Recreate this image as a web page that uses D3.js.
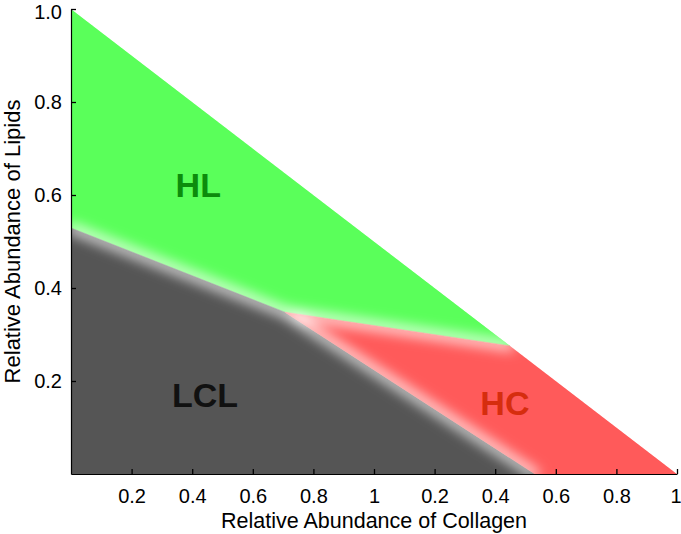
<!DOCTYPE html>
<html>
<head>
<meta charset="utf-8">
<script src="https://cdn.jsdelivr.net/npm/d3@7"></script>
<style>
  body { margin: 0; background: #fff; }
  text { font-family: "Liberation Sans", Arial, Helvetica, sans-serif; }
</style>
</head>
<body>
<svg width="681" height="534"></svg>
<script>
// corners of the plotted simplex, in axis units
const triangle = [[0, 1], [0, 0], [2, 0]];
// boundary points between the three classes
const leftPoint = [0, 0.529];
const triplePoint = [0.706, 0.348];
const hypPoint = [1.449, 0.2755];
const bottomPoint = [1.531, 0];

const regionNames = ["HL", "LCL", "HC"];
const regionColors = ["#5aff5a", "#555555", "#ff5a5a"];
const labelColors = ["#0c8c0c", "#111111", "#d62d0e"];
const labelPos = [[0.42, 0.595], [0.442, 0.144], [1.432, 0.127]];
const regions = [
    [[0, 1], leftPoint, triplePoint, hypPoint],
    [leftPoint, [0, 0], bottomPoint, triplePoint],
    [triplePoint, bottomPoint, [2, 0], hypPoint]
];
const boundaries = [
    [leftPoint, triplePoint],
    [triplePoint, hypPoint],
    [triplePoint, bottomPoint]
];

const xTicks = [0.2, 0.4, 0.6, 0.8, 1, 1.2, 1.4, 1.6, 1.8, 2];
const yTicks = [0.2, 0.4, 0.6, 0.8, 1];

const svg = d3.select("svg");
const x = d3.scaleLinear().domain([0, 2]).range([71, 677]);
const y = d3.scaleLinear().domain([0, 1]).range([474, 9]);

const line = d3.line().x(d => x(d[0])).y(d => y(d[1]));

const defs = svg.append("defs");
defs.append("clipPath").attr("id", "tri")
    .append("path").attr("d", line(triangle) + "Z");
const blur = defs.append("filter").attr("id", "soft")
    .attr("x", "-20%").attr("y", "-20%").attr("width", "140%").attr("height", "140%");
blur.append("feGaussianBlur").attr("stdDeviation", 6.5);

const plot = svg.append("g").attr("clip-path", "url(#tri)");

plot.selectAll("path.region")
    .data(regions)
    .enter()
    .append("path")
    .attr("class", "region")
    .attr("d", d => line(d) + "Z")
    .attr("fill", (d, i) => regionColors[i])
    .attr("stroke", (d, i) => regionColors[i])
    .attr("stroke-width", 0.5);

// soft white seams between the classes
plot.append("g").attr("filter", "url(#soft)")
    .selectAll("path")
    .data(boundaries)
    .enter()
    .append("path")
    .attr("d", d => line(d))
    .attr("fill", "none")
    .attr("stroke", "#fff")
    .attr("stroke-width", 8)
    .attr("stroke-linecap", "round");

svg.selectAll("text.region-label")
    .data(regionNames)
    .enter()
    .append("text")
    .attr("class", "region-label")
    .attr("x", (d, i) => x(labelPos[i][0]))
    .attr("y", (d, i) => y(labelPos[i][1]))
    .attr("text-anchor", "middle")
    .attr("font-size", 34)
    .attr("font-weight", "bold")
    .attr("fill", (d, i) => labelColors[i])
    .text(d => d);

// axes, ticks pointing inward
const xAxis = d3.axisBottom(x)
    .tickValues(xTicks)
    .tickSizeInner(-5)
    .tickSizeOuter(0)
    .tickPadding(15)
    .tickFormat(d => {
        const v = d > 1.0001 ? d - 1 : d;
        return Math.abs(v - 1) < 1e-6 ? "1" : d3.format(".1f")(v);
    });
const yAxis = d3.axisLeft(y)
    .tickValues(yTicks)
    .tickSizeInner(-5)
    .tickSizeOuter(0)
    .tickPadding(9)
    .tickFormat(d3.format(".1f"));

const gx = svg.append("g").attr("transform", `translate(0,${y(0)})`).call(xAxis);
const gy = svg.append("g").attr("transform", `translate(${x(0)},0)`).call(yAxis);
[gx, gy].forEach(g => {
    g.select(".domain").attr("stroke", "#000").attr("stroke-width", 1.2);
    g.selectAll(".tick line").attr("stroke", "#000").attr("stroke-width", 1.3);
    g.selectAll(".tick text").attr("font-size", 20).attr("fill", "#000")
        .attr("font-family", "'Liberation Sans', Arial, sans-serif");
});
// keep the edge labels inside the picture
gy.selectAll(".tick text").filter(d => d === 1).attr("dy", "0.45em");
gx.selectAll(".tick text").filter(d => d === 2)
    .attr("text-anchor", "end").attr("x", 4);

svg.append("text")
    .attr("x", (x(0) + x(2)) / 2)
    .attr("y", 528)
    .attr("text-anchor", "middle")
    .attr("font-size", 21.5)
    .text("Relative Abundance of Collagen");

svg.append("text")
    .attr("transform", `translate(20,${(y(0) + y(1)) / 2}) rotate(-90)`)
    .attr("text-anchor", "middle")
    .attr("font-size", 22)
    .text("Relative Abundance of Lipids");
</script>
</body>
</html>
